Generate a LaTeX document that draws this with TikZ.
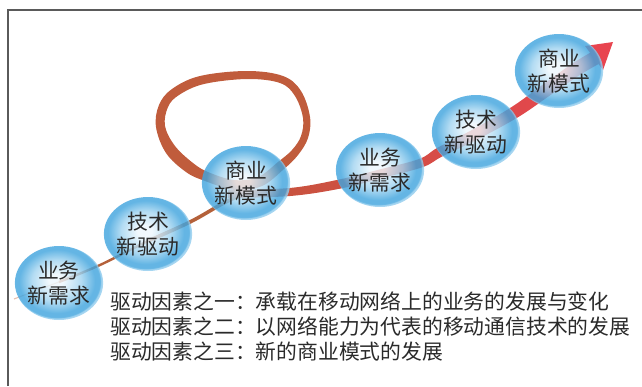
\documentclass[tikz,border=0pt]{standalone}
\usepackage{fontspec}
\setmainfont{Noto Sans CJK SC}
\usetikzlibrary{shapes.geometric}
\definecolor{bubW}{HTML}{EEF7FC}
\definecolor{bubM}{HTML}{A2D4F0}
\definecolor{bubE}{HTML}{42A5DE}
\definecolor{bubR}{HTML}{93CDEE}
\definecolor{thinc}{HTML}{B4613A}
\definecolor{faintc}{HTML}{E6BFAE}
\definecolor{loopc}{HTML}{C05C3C}
\definecolor{bandL}{HTML}{C2553C}
\definecolor{bandM}{HTML}{DC4C46}
\definecolor{bandR}{HTML}{E8454F}
\definecolor{arrowc}{HTML}{E8444F}
\definecolor{txtc}{HTML}{2A2A2A}
\definecolor{framec}{HTML}{5A5A5A}
\pgfdeclareradialshading{bubble}{\pgfpoint{-2bp}{2bp}}{color(0bp)=(bubW); color(4bp)=(bubW); color(14bp)=(bubM); color(21.5bp)=(bubE); color(24.2bp)=(bubE); color(25bp)=(bubR); color(50bp)=(bubR)}
\tikzset{
  bubblenode/.style={ellipse, minimum width=82pt, minimum height=74pt, inner sep=0pt,
    shade, shading=bubble, fill opacity=0.82, text opacity=1, text=txtc, align=center,
    font=\fontsize{20.8pt}{25pt}\selectfont},
  legend/.style={anchor=west, inner sep=0pt, text=txtc, font=\fontsize{20.8pt}{25pt}\selectfont},
  framestyle/.style={draw=framec, line width=1.4pt}
}
\begin{document}
\begin{tikzpicture}[x=1pt, y=-1pt]
\useasboundingbox (0,0) rectangle (642,386);
% frame
\coordinate (fa) at (8,386);
\coordinate (fb) at (8,10);
\coordinate (fc) at (642,10);
\draw[framestyle] (fa) -- (fb) -- (fc);
% thin path
\draw[faintc, line width=1.1pt] (14,299) -- (40,289) -- (59,282);
\draw[thinc, line width=2.4pt] plot[smooth, tension=0.6] coordinates {(59,282) (100,265) (148,241) (190,222)};
\draw[thinc, line width=3.6pt] plot[smooth, tension=0.6] coordinates {(148,241) (190,222) (222,204) (245,193)};
% loop ring
\fill[loopc, even odd rule]
  plot[smooth cycle, tension=0.6] coordinates {(205,181) (186,172) (166,153) (156,127) (159,105) (172,89) (200,76) (247,71) (283,76) (301,91) (310,117) (308,138) (298,155) (284,169) (262,186) (235,190)}
  plot[smooth cycle, tension=0.6] coordinates {(208,172) (193,163) (175,146) (165,126) (168,107) (179,95) (204,84) (247,79) (280,83) (295,96) (303,118) (301,136) (292,150) (278,162) (258,177) (234,180)};
% thick band
\shade[left color=bandL, middle color=bandM, right color=bandR]
  plot[smooth, tension=0.6] coordinates {(228,190) (289.7,188) (339.2,179.5) (378.8,169.7) (419.3,158.9) (437.7,147.6) (473.4,129.2) (511.8,106.9) (541.3,85.7) (571.3,64.3) (591.4,52.0)}
  -- plot[smooth, tension=0.6] coordinates {(598.6,64.0) (578.7,75.7) (548.7,96.3) (518.2,117.1) (478.6,138.8) (442.3,156.4) (422.7,167.1) (381.2,178.3) (340.8,188.5) (290.3,196) (228,198)} -- cycle;
% arrowhead
\coordinate (tip) at (613,42);
\coordinate (barbA) at (585,46);
\coordinate (barbB) at (603,70);
\fill[arrowc] (tip) -- (barbA) -- (barbB) -- cycle;
% bubbles
\node[bubblenode] (c1) at (59,283) {业务\\新需求};
\node[bubblenode] (c2) at (148,234) {技术\\新驱动};
\node[bubblenode] (c3) at (246,183) {商业\\新模式};
\node[bubblenode] (c4) at (380,170) {业务\\新需求};
\node[bubblenode] (c5) at (476,132) {技术\\新驱动};
\node[bubblenode] (c6) at (559,71) {商业\\新模式};
% legend
\node[legend] (t1) at (110,301) {驱动因素之一：承载在移动网络上的业务的发展与变化};
\node[legend] (t2) at (110,327) {驱动因素之二：以网络能力为代表的移动通信技术的发展};
\node[legend] (t3) at (110,352) {驱动因素之三：新的商业模式的发展};
\end{tikzpicture}
\end{document}
